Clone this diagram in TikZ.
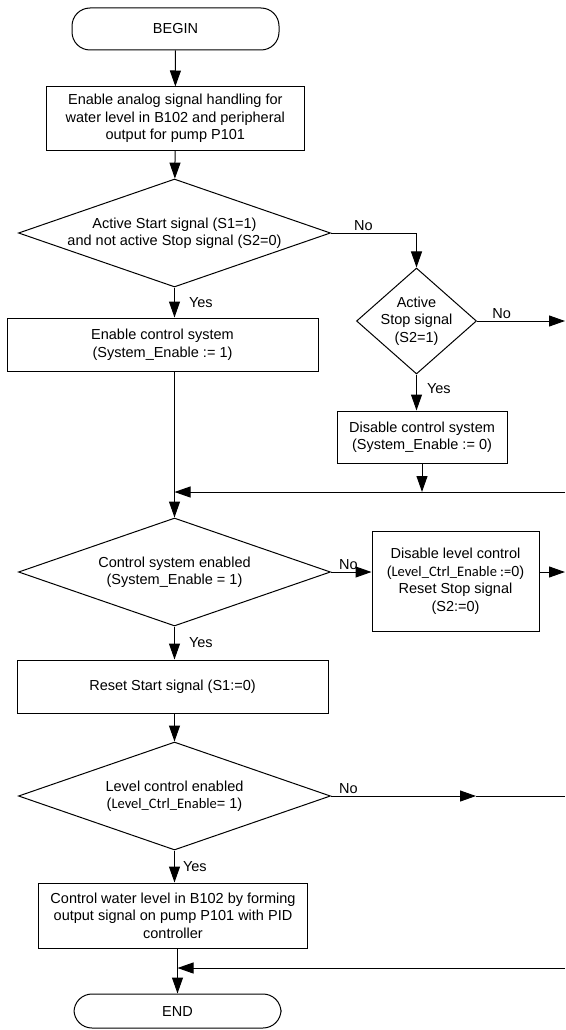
\documentclass[tikz,border=0pt]{standalone}
\usepackage{fontspec}
\setmainfont{Liberation Sans}
\newfontfamily\calib{Carlito}
\usetikzlibrary{shapes.geometric,arrows.meta}

\begin{document}
\begin{tikzpicture}[
  x=1pt, y=-1pt,
  line width=1pt,
  every node/.style={font=\fontsize{14.5}{17.5}\selectfont},
  term/.style={
    draw,
    rounded corners=18pt,
    minimum width=207pt,
    minimum height=42pt
  },
  box/.style={
    draw,
    align=center,
    inner sep=2pt
  },
  decision/.style={
    draw,
    diamond,
    aspect=2.9,
    align=center,
    inner sep=-4pt
  },
  lbl/.style={inner sep=2pt},
  arrow/.style={-{Triangle[length=16pt,width=11pt]}}
]
\useasboundingbox (0,0) rectangle (565,1030);

\node[term] (begin) at (175.5,29) {BEGIN};
\node[box, minimum width=258pt, minimum height=63pt] (init) at (175.3,118.5) {Enable analog signal handling for\\water level in B102 and peripheral\\output for pump P101};
\node[decision, minimum width=312pt, minimum height=108pt] (start) at (174.5,233) {Active Start signal (S1=1)\\and not active Stop signal (S2=0)};
\node[decision, aspect=1.1, minimum width=120pt, minimum height=106pt] (stop) at (416.5,321) {Active\\Stop signal\\(S2=1)};
\coordinate (edge0) at (565,321);
\node[box, minimum width=311pt, minimum height=53pt] (enable) at (162.5,344.5) {Enable control system\\(System\_Enable := 1)};
\node[box, minimum width=170pt, minimum height=52pt] (disable) at (422,437) {Disable control system\\(System\_Enable := 0)};
\coordinate (join1) at (174.5,492);
\coordinate (edge1) at (565,492);
\node[decision, minimum width=312pt, minimum height=108pt] (sysen) at (174.5,572) {Control system enabled\\(System\_Enable = 1)};
\node[box, minimum width=167pt, minimum height=100pt] (lvloff) at (455.5,581) {Disable level control\\({\calib Level\_Ctrl\_Enable :=}0)\\Reset Stop signal\\(S2:=0)};
\coordinate (edge2) at (565,572);
\node[box, minimum width=311pt, minimum height=53pt] (reset) at (172.5,686.5) {Reset Start signal (S1:=0)};
\node[decision, minimum width=312pt, minimum height=108pt] (lvlen) at (174.5,796) {Level control enabled\\({\calib Level\_Ctrl\_Enable}= 1)};
\coordinate (mid4) at (476,796);
\coordinate (edge4) at (565,796);
\node[box, minimum width=268.5pt, minimum height=65pt] (pid) at (173,915.5) {Control water level in B102 by forming\\output signal on pump P101 with PID\\controller};
\coordinate (join2) at (177.5,968);
\coordinate (edge5) at (565,968);
\node[term, minimum height=34pt] (finish) at (177.5,1011) {END};

\draw[arrow] (begin) -- (init);
\draw[arrow] (init) -- (start);
\draw[arrow] (start) -- (start |- enable.north) node[lbl, pos=0.5, right=12pt] (yes1) {Yes};
\draw[arrow] (start) -| (stop) node[lbl, pos=0.19, above] (no1) {No};
\draw[arrow] (stop) -- (edge0) node[lbl, pos=0.28, above] (no2) {No};
\draw[arrow] (stop) -- (stop |- disable.north) node[lbl, pos=0.4, right=8pt] (yes2) {Yes};
\draw[arrow] (disable) -- (disable |- join1);
\draw[arrow] (edge1) -- (join1);
\draw[arrow] (enable.south -| sysen) -- (sysen);
\draw[arrow] (sysen) -- (lvloff.west |- sysen) node[lbl, pos=0.43, above] (no3) {No};
\draw[arrow] (lvloff.east |- sysen) -- (edge2);
\draw[arrow] (sysen) -- (sysen |- reset.north) node[lbl, pos=0.5, right=12pt] (yes3) {Yes};
\draw[arrow] (reset.south -| lvlen) -- (lvlen);
\draw[arrow] (lvlen) -- (mid4) node[lbl, pos=0.12, above] (no4) {No};
\draw (mid4) -- (edge4);
\draw[arrow] (lvlen) -- (lvlen |- pid.north) node[lbl, pos=0.5, right=6pt] (yes4) {Yes};
\draw[arrow] (pid.south -| finish) -- (finish);
\draw[arrow] (edge5) -- (join2);
\end{tikzpicture}
\end{document}
